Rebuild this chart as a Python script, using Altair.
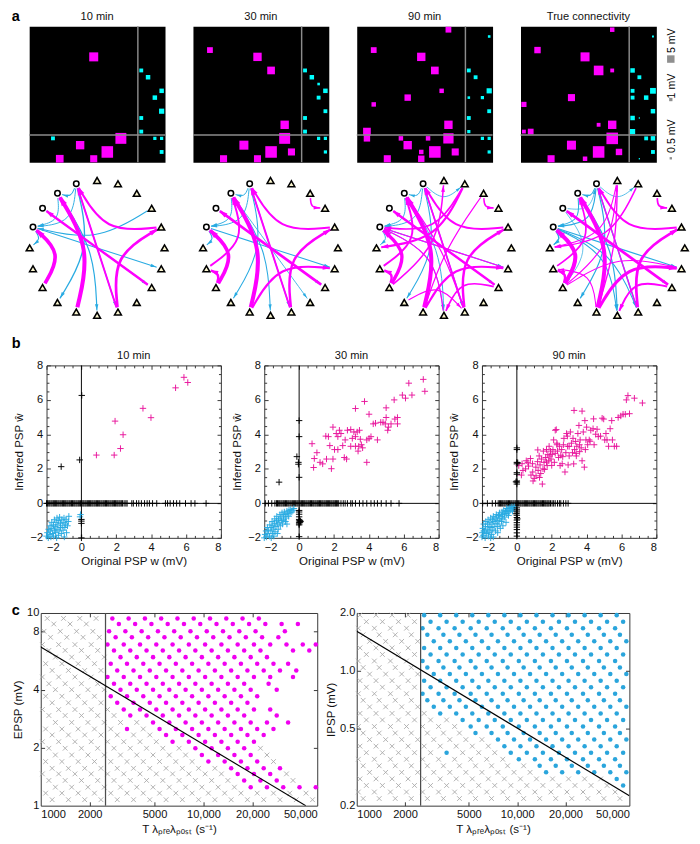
import altair as alt
import numpy as np
import pandas as pd

FONT = "Liberation Sans"


def nums(s):
    return [float(v) for v in s.split()]


# ============ panel a: inferred connectivity (pre = column, post = row, PSP in mV; negative = inhibitory)
N_EXC = 16
N_INH = 4
a_titles = ["10 min", "30 min", "90 min", "True connectivity"]
a_10min = [(9, 4, 7.3), (16, 6, -1.33), (17, 7, -1.8), (19, 9, -1.8), (18, 10, -1.8), (19, 12, -2.4),
           (16, 13, -1.33), (16, 15, -1.33), (3, 16, -1.33), (13, 16, 10.7), (18, 16, -0.93), (19, 16, -0.93),
           (7, 17, 6.3), (11, 18, 12.0), (19, 18, -1.33), (4, 19, 5.3), (9, 19, 4.5)]
a_30min = [(2, 3, 3.0), (9, 4, 6.3), (11, 6, 5.3), (16, 6, -1.33), (17, 7, -1.8), (18, 8, -0.6), (19, 9, -1.8),
           (18, 10, -1.33), (19, 12, -1.33), (16, 13, -1.33), (13, 14, 6.3), (16, 15, -1.33), (13, 16, 10.7),
           (18, 16, -0.93), (19, 16, -0.93), (7, 17, 7.3), (11, 18, 12.0), (14, 18, 4.5), (19, 18, -0.93),
           (4, 19, 4.5), (9, 19, 4.5)]
a_90min = [(13, 0, 3.0), (19, 1, -0.6), (2, 3, 3.0), (9, 4, 6.3), (11, 6, 5.3), (16, 6, -1.33), (17, 7, -1.33),
           (12, 9, 1.8), (19, 9, -2.4), (7, 10, 3.7), (16, 10, -0.6), (18, 10, -0.93), (2, 11, 1.8),
           (19, 12, -1.33), (16, 13, -1.33), (13, 14, 6.3), (1, 15, 5.3), (16, 15, -0.93), (1, 16, 3.7),
           (13, 16, 9.5), (6, 16, 1.8), (10, 16, 1.8), (18, 16, -0.93), (19, 16, -0.93), (7, 17, 6.3),
           (9, 18, 1.8), (11, 18, 12.0), (14, 18, 4.5), (19, 18, -0.93), (4, 19, 4.5), (9, 19, 3.7)]
a_true = [(13, 0, 1.8), (19, 1, -0.33), (2, 3, 3.7), (9, 4, 7.3), (11, 6, 8.3), (13, 6, 1.33), (16, 6, -1.8),
          (17, 7, -1.33), (16, 9, -1.33), (19, 9, -3.0), (7, 10, 4.5), (16, 10, -1.33), (18, 10, -1.8),
          (0, 11, 2.4), (19, 12, -1.8), (16, 13, -1.8), (17, 13, -0.15), (11, 14, 1.33), (13, 14, 6.3),
          (0, 15, 1.33), (1, 15, 3.0), (16, 15, -2.4), (13, 16, 12.0), (18, 16, -1.33), (19, 16, -1.8),
          (7, 17, 7.3), (11, 18, 12.0), (14, 18, 3.7), (19, 18, -1.33), (4, 19, 4.5), (9, 19, 1.8),
          (17, 19, -0.15)]
legend_mv = [5, 1, 0.5]
legend_labels = ["5 mV", "1 mV", "0.5 mV"]

# ============ panel b: original PSP w vs inferred PSP w-hat (mV)
b_titles = ["10 min", "30 min", "90 min"]
b10_exc = [(0.86, 2.80), (1.88, 2.80), (2.24, 3.18), (2.39, 3.98), (1.93, 4.77), (3.53, 5.51), (3.99, 4.97),
           (5.40, 6.70), (5.88, 7.31), (6.10, 7.01)]
b10_inh = [(-2.0, -1.9), (-1.95, -1.7), (-1.9, -2.0), (-1.88, -1.5), (-1.85, -1.8), (-1.8, -1.3), (-1.78, -1.6),
           (-1.75, -1.95), (-1.7, -1.1), (-1.7, -1.45), (-1.65, -1.75), (-1.6, -1.25), (-1.6, -1.9),
           (-1.55, -0.95), (-1.55, -1.55), (-1.5, -1.35), (-1.48, -1.7), (-1.45, -1.1), (-1.42, -2.0),
           (-1.4, -0.85), (-1.4, -1.5), (-1.35, -1.25), (-1.32, -1.85), (-1.3, -1.0), (-1.28, -1.6),
           (-1.25, -0.8), (-1.2, -1.4), (-1.2, -1.15), (-1.15, -1.75), (-1.12, -0.95), (-1.1, -1.3),
           (-1.05, -1.55), (-1.0, -1.1), (-1.0, -0.85), (-0.98, -1.95), (-0.95, -1.4), (-0.9, -1.2),
           (-0.88, -0.95), (-0.85, -1.7), (-0.8, -1.3), (-0.75, -1.05), (-0.72, -0.75), (-0.05, -0.65),
           (-0.08, -0.78)]
b10_other = [(-1.16, 2.13), (-0.10, 2.52), (0.02, 6.26), (0.0, -0.93), (0.0, -1.03), (0.0, -1.16), (0.0, -2.0)]
b10_missed = nums("""-2.00 -1.94 -1.87 -1.81 -1.74 -1.68 -1.61 -1.55 -1.48 -1.42 -1.35 -1.29 -1.22 -1.16 -1.09
 -1.03 -0.96 -0.90 -0.83 -0.77 -0.70 -0.64 -0.57 -0.51 -0.44 -0.38 -0.31 -0.25 -0.18 -0.12 -0.05 0.01 0.08 0.14
 0.21 0.27 0.34 0.40 0.47 0.53 0.60 0.66 0.73 0.79 0.86 0.92 0.99 1.05 1.12 1.18 1.25 1.31 1.38 1.44 1.51 1.57
 1.64 1.70 1.77 1.83 1.90 1.96 2.03 2.09 2.16 2.22 2.29 2.36 2.45 2.55 2.62 2.89 2.98 3.16 3.29 3.44 3.62 3.77
 3.90 4.08 4.32 4.82 4.94 5.09 5.28 5.46 5.64 5.97 6.29 6.51 7.15""")

b30_exc = [(0.74, 3.46), (0.87, 2.60), (0.83, 2.08), (1.20, 2.38), (1.35, 2.29), (1.57, 2.57), (1.53, 3.90),
           (1.68, 3.87), (1.85, 2.01), (1.94, 2.57), (1.76, 3.35), (1.94, 4.42), (2.03, 3.12), (2.22, 3.12),
           (2.31, 4.24), (2.22, 3.87), (2.40, 4.05), (2.50, 3.35), (2.64, 3.68), (2.59, 2.66), (2.72, 2.57),
           (2.77, 4.24), (2.96, 4.28), (3.05, 3.77), (3.14, 4.14), (3.23, 3.87), (3.33, 4.14), (3.38, 3.03),
           (3.42, 3.31), (3.46, 4.24), (3.51, 3.72), (3.57, 3.40), (3.64, 3.22), (3.88, 2.38), (3.88, 3.68),
           (4.01, 3.77), (4.12, 3.87), (4.25, 4.61), (4.38, 4.65), (4.49, 3.68), (4.68, 4.70), (4.81, 4.70),
           (4.94, 4.61), (4.99, 4.98), (5.08, 4.24), (5.12, 4.42), (5.27, 4.61), (5.49, 4.89), (5.64, 4.98),
           (5.64, 4.61), (3.23, 5.50), (3.75, 5.91), (4.01, 5.17), (4.99, 5.54), (5.45, 6.00), (6.10, 6.10),
           (6.29, 6.97), (7.12, 7.19), (7.21, 6.50), (5.92, 6.28), (6.47, 6.28), (1.02, 2.94), (2.13, 4.05),
           (2.96, 3.31), (3.23, 3.31)]
b30_inh = [(-2.0, -2.0), (-1.95, -1.8), (-1.9, -1.6), (-1.88, -1.95), (-1.82, -1.4), (-1.8, -1.75),
           (-1.75, -1.55), (-1.7, -1.9), (-1.68, -1.25), (-1.62, -1.6), (-1.6, -1.4), (-1.55, -1.05),
           (-1.52, -1.75), (-1.5, -1.3), (-1.45, -1.5), (-1.42, -1.15), (-1.4, -0.9), (-1.38, -1.65),
           (-1.33, -1.35), (-1.3, -1.0), (-1.28, -0.75), (-1.25, -1.2), (-1.2, -1.5), (-1.18, -0.9),
           (-1.15, -1.1), (-1.1, -0.65), (-1.08, -1.3), (-1.05, -0.85), (-1.0, -1.0), (-0.98, -0.55),
           (-0.95, -1.2), (-0.9, -0.75), (-0.88, -0.95), (-0.85, -0.5), (-0.8, -0.65), (-0.78, -1.05),
           (-0.75, -0.85), (-0.7, -0.45), (-0.65, -0.6), (-0.6, -0.75), (-0.58, -0.4), (-0.52, -0.55),
           (-0.48, -0.35), (-0.42, -0.5), (-0.35, -0.4), (-0.3, -0.3), (-1.45, -1.9), (-1.25, -1.75),
           (-1.6, -2.0), (-0.7, -1.2)]
b30_other = [(-1.15, 1.23), (-0.13, 2.71), (-0.04, 2.38), (-0.04, 2.27), (0.0, 4.80), (0.0, 3.87), (0.0, 1.51),
             (0.0, -0.41), (0.0, -0.50), (0.0, -0.63), (0.0, -0.78), (0.0, -0.93), (0.0, -1.02), (0.0, -1.12),
             (0.0, -1.19), (0.0, -1.25), (0.0, -1.93), (0.05, -1.0), (0.08, -1.05), (0.05, -1.1)]
b30_missed = nums("""-1.94 -1.76 -1.57 -1.39 -1.30 -1.24 -1.17 -1.11 -1.04 -0.98 -0.91 -0.85 -0.78 -0.72 -0.65
 -0.59 -0.52 -0.46 -0.39 -0.33 -0.26 -0.20 -0.13 -0.07 0.00 0.06 0.13 0.19 0.26 0.32 0.39 0.45 0.52 0.58 0.65
 0.71 0.78 0.84 0.91 0.97 1.04 1.10 1.17 1.23 1.30 1.36 1.43 1.49 1.56 1.62 1.69 1.75 1.82 1.88 1.95 2.01 2.08
 2.14 2.21 2.27 2.40 2.53 2.64 2.77 2.96 3.05 3.23 3.46 3.66 3.88 4.12 4.31 4.49 4.71 4.99 5.27 5.73""")

b90_exc = [(0.11, 2.19), (0.26, 1.64), (0.35, 1.91), (0.54, 2.47), (0.63, 2.38), (0.67, 2.16), (0.78, 2.60),
           (0.81, 1.64), (0.91, 1.82), (0.93, 1.30), (1.00, 1.45), (1.09, 2.10), (1.19, 2.42), (1.22, 1.91),
           (1.28, 2.75), (1.33, 2.23), (1.37, 1.73), (1.46, 1.12), (1.41, 2.57), (1.52, 3.03), (1.56, 2.38),
           (1.59, 1.97), (1.65, 2.66), (1.70, 3.12), (1.74, 2.19), (1.78, 2.84), (1.83, 2.47), (1.85, 3.31),
           (1.89, 2.75), (1.93, 3.03), (1.96, 2.57), (2.02, 2.84), (2.07, 3.12), (2.11, 3.68), (2.20, 4.24),
           (2.26, 4.28), (2.15, 2.38), (2.30, 3.49), (2.33, 3.03), (2.39, 2.66), (2.44, 3.31), (2.48, 2.19),
           (2.52, 2.79), (2.57, 3.12), (2.63, 2.71), (2.67, 3.40), (2.70, 3.77), (2.76, 1.82), (2.81, 2.94),
           (2.85, 4.05), (2.91, 3.31), (2.94, 2.23), (3.00, 2.75), (3.07, 4.14), (3.13, 3.49), (3.19, 2.94),
           (3.22, 3.77), (3.26, 2.29), (3.31, 3.12), (3.37, 3.59), (3.41, 2.75), (3.44, 3.31), (3.50, 4.05),
           (3.56, 4.52), (3.59, 3.40), (3.63, 3.68), (3.69, 3.22), (3.74, 2.47), (3.81, 4.14), (3.87, 2.10),
           (3.93, 3.12), (3.96, 3.68), (4.00, 4.42), (4.06, 3.40), (4.15, 3.68), (4.24, 4.24), (4.37, 4.33),
           (4.43, 3.40), (4.52, 4.01), (4.67, 3.87), (4.80, 3.90), (4.89, 4.94), (4.98, 4.89), (5.04, 3.68),
           (5.11, 4.05), (5.17, 3.68), (5.26, 3.31), (5.35, 4.33), (5.44, 4.80), (5.48, 3.68), (5.59, 3.31),
           (5.72, 3.31), (5.81, 4.98), (5.96, 5.07), (6.09, 5.17), (6.22, 5.17), (6.46, 5.20), (3.28, 5.39),
           (3.74, 5.35), (6.28, 6.00), (6.74, 6.10), (7.20, 5.82), (6.37, 6.25), (1.10, 1.60), (1.30, 1.50),
           (0.90, 2.30), (1.50, 2.00), (1.70, 2.40), (2.00, 2.20), (2.20, 2.90), (1.20, 3.10), (0.50, 2.00),
           (0.30, 2.30), (2.60, 2.30), (3.00, 3.30), (3.40, 2.90), (2.30, 3.40), (2.90, 3.90), (3.60, 3.00),
           (4.20, 3.60), (4.60, 4.30), (3.90, 4.80), (4.40, 4.90)]
b90_inh = [(-2.0, -1.95), (-1.98, -1.7), (-1.95, -1.45), (-1.92, -1.85), (-1.9, -1.2), (-1.85, -1.6),
           (-1.82, -2.0), (-1.8, -1.35), (-1.78, -1.05), (-1.75, -1.75), (-1.7, -1.5), (-1.68, -1.2),
           (-1.65, -0.95), (-1.62, -1.9), (-1.6, -1.35), (-1.55, -1.6), (-1.55, -1.1), (-1.5, -0.85),
           (-1.48, -1.4), (-1.45, -1.8), (-1.42, -1.2), (-1.4, -0.95), (-1.38, -1.55), (-1.35, -0.75),
           (-1.32, -1.05), (-1.3, -1.35), (-1.25, -0.9), (-1.22, -1.6), (-1.2, -1.15), (-1.18, -0.65),
           (-1.15, -0.8), (-1.12, -1.35), (-1.1, -1.0), (-1.05, -0.7), (-1.02, -1.2), (-1.0, -0.55),
           (-0.98, -0.9), (-0.95, -1.45), (-0.9, -0.75), (-0.88, -1.05), (-0.85, -0.5), (-0.82, -0.65),
           (-0.8, -0.9), (-0.75, -0.4), (-0.72, -0.6), (-0.7, -0.8), (-0.65, -0.45), (-0.62, -1.1),
           (-0.6, -0.3), (-0.58, -0.6), (-0.55, -0.45), (-0.5, -0.3), (-0.48, -0.7), (-0.45, -0.5),
           (-0.4, -0.25), (-0.38, -0.4), (-0.32, -0.3), (-0.28, -0.2), (-0.25, -0.45), (-0.2, -0.3),
           (-0.15, -0.2), (-1.65, -1.7), (-1.35, -1.95), (-1.1, -1.7), (-1.9, -1.6), (-1.5, -2.0), (-0.8, -1.3)]
b90_other = [(0.0, 3.22), (0.0, 3.12), (0.0, 2.38), (0.0, 2.29), (0.0, 1.78), (0.0, 1.69), (0.0, 1.30),
             (0.0, 1.23), (0.0, 1.12), (0.0, -0.26), (0.0, -0.37), (0.0, -0.45), (0.0, -0.56), (0.0, -0.69),
             (0.0, -0.82), (0.0, -0.97), (0.0, -1.12), (0.0, -1.25), (0.0, -1.38), (0.0, -1.52), (0.0, -1.71),
             (0.0, -1.90), (-0.05, 1.25), (0.05, 2.35), (0.03, -0.9), (-0.03, -0.6)]
b90_missed = nums("""-1.96 -1.69 -1.41 -1.22 -1.07 -1.00 -0.94 -0.87 -0.81 -0.74 -0.68 -0.61 -0.55 -0.48 -0.42
 -0.35 -0.29 -0.22 -0.16 -0.09 -0.03 0.04 0.10 0.17 0.23 0.30 0.36 0.43 0.49 0.56 0.62 0.69 0.75 0.82 0.88 0.95
 1.01 1.08 1.14 1.21 1.27 1.34 1.40 1.47 1.53 1.60 1.66 1.73 1.79 1.85 1.93 2.02 2.11 2.20 2.33 2.44 2.52 2.67
 2.81 2.94""")

# ============ panel c: log10(T*lambda_pre*lambda_post), per row of log10(PSP); crosses = not detected, dots = detected
c_epsp_rows = [
    (0.972, "3.04 3.14 3.24 3.34", "3.44 3.54 3.64 3.74 3.84 3.94 4.04 4.14 4.24 4.34"),
    (0.943, "3.08 3.18 3.28", "3.48 3.58 3.68 3.78 3.88 3.98 4.08 4.18 4.28 4.38 4.48 4.58"),
    (0.905, "3.02 3.12 3.22 3.32", "3.42 3.52 3.62 3.72 3.82 3.92 4.02 4.12 4.22 4.32 4.50"),
    (0.874, "3.06 3.16 3.26 3.36", "3.46 3.56 3.66 3.76 3.86 3.96 4.06 4.16 4.26 4.36 4.46"),
    (0.836, "3.01 3.11 3.21 3.31", "3.41 3.51 3.61 3.71 3.81 3.91 4.01 4.11 4.21 4.31 4.41 4.51 4.61 4.69"),
    (0.806, "3.05 3.15 3.25 3.35", "3.45 3.55 3.65 3.75 3.85 3.95 4.05 4.15 4.25 4.35 4.55 4.65"),
    (0.771, "3.09 3.19 3.29 3.39", "3.49 3.59 3.69 3.79 3.89 3.99 4.09 4.19 4.29 4.39"),
    (0.737, "3.03 3.13 3.23 3.33", "3.43 3.53 3.63 3.73 3.83 3.93 4.03 4.13 4.23 4.33 4.43 4.52"),
    (0.702, "3.07 3.17 3.27 3.37", "3.47 3.57 3.67 3.77 3.87 3.97 4.07 4.17 4.27 4.37 4.47 4.57"),
    (0.668, "3.01 3.11 3.21 3.31", "3.41 3.51 3.61 3.71 3.81 3.91 4.01 4.11 4.21 4.31 4.41 4.55"),
    (0.633, "3.05 3.15 3.25 3.35", "3.45 3.55 3.65 3.75 3.85 3.95 4.05 4.15 4.25 4.40"),
    (0.602, "3.09 3.19 3.29 3.39", "3.49 3.59 3.69 3.79 3.89 3.99 4.09 4.19 4.29 4.45"),
    (0.568, "3.03 3.13 3.23 3.33", "3.43 3.53 3.63 3.73 3.83 3.93 4.03 4.13 4.23 4.33"),
    (0.534, "3.07 3.17 3.27 3.37", "3.47 3.57 3.67 3.77 3.87 3.97 4.07 4.17 4.27"),
    (0.499, "3.01 3.11 3.21 3.31 3.41", "3.51 3.61 3.71 3.81 3.91 4.01 4.11 4.21 4.31 4.41"),
    (0.468, "3.05 3.15 3.25 3.35 3.45", "3.55 3.65 3.75 3.85 3.95 4.05 4.15 4.25 4.45"),
    (0.432, "3.09 3.19 3.29 3.39 3.49 3.59", "3.69 3.79 3.89 3.99 4.09 4.19 4.29 4.39 4.52"),
    (0.398, "3.03 3.13 3.23 3.33 3.43 3.63", "3.53 3.73 3.83 3.93 4.03 4.13 4.23 4.33 4.43"),
    (0.367, "3.07 3.17 3.27 3.37 3.47 3.57 3.67", "3.77 3.87 3.97 4.07 4.17 4.27 4.37"),
    (0.332, "3.01 3.11 3.21 3.31 3.41 3.51 3.61 3.71", "3.81 3.91 4.01 4.11 4.21 4.31"),
    (0.298, "3.05 3.15 3.25 3.35 3.45 3.55 3.65 3.75 3.85 4.35", "3.95 4.05 4.15 4.25"),
    (0.263, "3.09 3.19 3.29 3.39 3.49 3.59 3.69 3.79 3.89 4.39", "3.99 4.09 4.19 4.29"),
    (0.229, "3.03 3.13 3.23 3.33 3.43 3.53 3.63 3.73 3.83 3.93 4.43", "4.03 4.13 4.23 4.33"),
    (0.194, "3.07 3.17 3.27 3.37 3.47 3.57 3.67 3.77 3.87 3.97 4.07", "4.17 4.27 4.37 4.47"),
    (0.165, "3.01 3.11 3.21 3.31 3.41 3.51 3.61 3.71 3.81 3.91 4.01 4.11 4.51", "4.21 4.31 4.41"),
    (0.131, "3.05 3.15 3.25 3.35 3.45 3.55 3.65 3.75 3.85 3.95 4.05 4.15 4.55", "4.25 4.35 4.45"),
    (0.096, "3.09 3.19 3.29 3.39 3.49 3.59 3.69 3.79 3.89 3.99 4.09 4.19", "4.29 4.39 4.49 4.59 4.69"),
    (0.065, "3.03 3.13 3.23 3.33 3.43 3.53 3.63 3.73 3.83 3.93 4.03 4.13 4.23 4.33 4.43 4.53 4.63", ""),
    (0.031, "3.07 3.17 3.27 3.37 3.47 3.57 3.67 3.77 3.87 3.97 4.07 4.17 4.27 4.37 4.47 4.57 4.67", ""),
]
c_ipsp_rows = [
    (0.290, "3.02 3.12 3.22 3.32", "3.42 3.52 3.62 3.72 3.82 3.92 4.02 4.12 4.22 4.32 4.42 4.52 4.62"),
    (0.256, "3.06 3.16 3.26 3.36", "3.46 3.56 3.66 3.76 3.86 3.96 4.06 4.16 4.26 4.36 4.46 4.56 4.66"),
    (0.222, "3.01 3.11 3.21 3.31", "3.41 3.51 3.61 3.71 3.81 3.91 4.01 4.11 4.21 4.31 4.41 4.51 4.61"),
    (0.188, "3.04 3.14 3.24 3.34", "3.44 3.54 3.64 3.74 3.84 3.94 4.04 4.14 4.24 4.34 4.44 4.54 4.64"),
    (0.154, "3.08 3.18 3.28 3.38", "3.48 3.58 3.68 3.78 3.88 3.98 4.08 4.18 4.28 4.38 4.48 4.58 4.68"),
    (0.120, "3.02 3.12 3.22 3.32", "3.42 3.52 3.62 3.72 3.82 3.92 4.02 4.12 4.22 4.32 4.42 4.52 4.62"),
    (0.086, "3.06 3.16 3.26 3.36", "3.46 3.56 3.66 3.76 3.86 3.96 4.06 4.16 4.26 4.36 4.46 4.56 4.66"),
    (0.052, "3.01 3.11 3.21 3.31", "3.41 3.51 3.61 3.71 3.81 3.91 4.01 4.11 4.21 4.31 4.41 4.51 4.61"),
    (0.018, "3.04 3.14 3.24 3.34", "3.44 3.54 3.64 3.74 3.84 3.94 4.04 4.14 4.24 4.34 4.44 4.54 4.64"),
    (-0.016, "3.08 3.18 3.28 3.38", "3.48 3.58 3.68 3.78 3.88 3.98 4.08 4.18 4.28 4.38 4.48 4.58 4.68"),
    (-0.050, "3.02 3.12 3.22 3.32", "3.42 3.52 3.62 3.72 3.82 3.92 4.02 4.12 4.22 4.32 4.42 4.52 4.62"),
    (-0.084, "3.06 3.16 3.26 3.36", "3.46 3.56 3.66 3.76 3.86 3.96 4.06 4.16 4.26 4.36 4.46 4.56 4.66"),
    (-0.118, "3.01 3.11 3.21 3.31", "3.41 3.51 3.61 3.71 3.81 3.91 4.01 4.11 4.21 4.31 4.41 4.51 4.61"),
    (-0.152, "3.04 3.14 3.24 3.34", "3.44 3.54 3.64 3.74 3.84 3.94 4.04 4.14 4.24 4.34 4.44 4.54 4.64"),
    (-0.186, "3.08 3.18 3.28 3.38", "3.48 3.58 3.68 3.78 3.88 3.98 4.08 4.18 4.28 4.38 4.48 4.58 4.68"),
    (-0.220, "3.02 3.12 3.22 3.32 3.42", "3.52 3.62 3.72 3.82 3.92 4.02 4.12 4.22 4.32 4.42 4.52 4.62"),
    (-0.254, "3.06 3.16 3.26 3.36 3.46 3.56", "3.66 3.76 3.86 3.96 4.06 4.16 4.26 4.36 4.46 4.56 4.66"),
    (-0.288, "3.01 3.11 3.21 3.31 3.41 3.51 3.61", "3.71 3.81 3.91 4.01 4.11 4.21 4.31 4.41 4.51 4.61"),
    (-0.322, "3.04 3.14 3.24 3.34 3.44 3.54 3.64", "3.74 3.84 3.94 4.04 4.14 4.24 4.34 4.44 4.54 4.64"),
    (-0.356, "3.08 3.18 3.28 3.38 3.48 3.58 3.68 3.78", "3.88 3.98 4.08 4.18 4.28 4.38 4.48 4.58 4.68"),
    (-0.390, "3.02 3.12 3.22 3.32 3.42 3.52 3.62 3.72 3.82", "3.92 4.02 4.12 4.22 4.32 4.42 4.52 4.62"),
    (-0.424, "3.06 3.16 3.26 3.36 3.46 3.66 3.76 3.86", "3.56 3.96 4.06 4.16 4.26 4.36 4.46 4.56 4.66"),
    (-0.458, "3.01 3.11 3.21 3.31 3.41 3.51 3.61 3.71 3.81 3.91", "4.01 4.11 4.21 4.31 4.41 4.51 4.61"),
    (-0.492, "3.04 3.14 3.24 3.34 3.44 3.54 3.64 3.74 3.84 3.94 4.04", "4.14 4.24 4.34 4.44 4.54 4.64"),
    (-0.526, "3.08 3.18 3.28 3.38 3.48 3.58 3.68 3.78 3.88 3.98 4.08", "4.18 4.28 4.38 4.48 4.58 4.68"),
    (-0.560, "3.02 3.12 3.22 3.32 3.42 3.52 3.62 3.72 3.82 3.92 4.02 4.12 4.22 4.32 4.42 4.52", "4.62"),
    (-0.594, "3.06 3.16 3.26 3.36 3.46 3.56 3.66 3.76 3.86 3.96 4.06 4.16 4.26 4.36 4.46 4.56", "4.66"),
    (-0.628, "3.01 3.11 3.21 3.31 3.41 3.51 3.61 3.71 3.81 3.91 4.01 4.11 4.21 4.31 4.41 4.51 4.61", ""),
    (-0.662, "3.04 3.14 3.24 3.34 3.44 3.54 3.64 3.74 3.84 3.94 4.04 4.14 4.24 4.34 4.44 4.54 4.64", ""),
]
c_threshold = 2500
c_epsp_line_x = [1000, 42500]
c_epsp_line_y = [6.67, 1.0]
c_ipsp_line_x = [1000, 50000]
c_ipsp_line_y = [1.61, 0.225]

# ============ styling
MAT_E, MAT_I = "#ff00ff", "#00ffff"
NET_E, NET_I = "#ff00ff", "#29abe2"
SC_E, SC_I = "#e8169c", "#29abe2"
C_E, C_I = "#f000f0", "#2aa5dc"
GREY_X = "#a8a8a8"
PLUS = "M-1,0L1,0M0,-1L0,1"
CROSS = "M-1,-1L1,1M-1,1L1,-1"
ARROW = "M0,-1L0.6,1L-0.6,1Z"
SIZE_SCALE = alt.Scale(domain=[0, 5], range=[0, 60])


def letter_layer(letter, dx, dy, opacity=1.0, baseline="alphabetic"):
    return alt.Chart(pd.DataFrame({"t": [letter]})).mark_text(
        fontSize=15, fontWeight="bold", align="left", baseline=baseline, font=FONT, opacity=opacity
    ).encode(text="t:N", x=alt.value(dx), y=alt.value(dy))


def title_layer(title, cx, dy=-10):
    return alt.Chart(pd.DataFrame({"t": [title]})).mark_text(
        fontSize=11.5, align="center", baseline="middle", font=FONT, color="#111"
    ).encode(text="t:N", x=alt.value(cx), y=alt.value(dy))


def matrix_panel(entries, title, letter=None):
    n = N_EXC + N_INH
    df = pd.DataFrame(entries, columns=["pre", "post", "w"])
    df["aw"] = df["w"].abs()
    xs = alt.Scale(domain=[-0.5, n - 0.5], nice=False, zero=False)
    ys = alt.Scale(domain=[-0.5, n - 0.5], nice=False, zero=False, reverse=True)
    layers = []
    for sub, col in ((df[df.w < 0], MAT_I), (df[df.w > 0], MAT_E)):
        layers.append(alt.Chart(sub).mark_point(shape="square", filled=True, opacity=1, strokeWidth=0, color=col).encode(
            x=alt.X("pre:Q", scale=xs, axis=None),
            y=alt.Y("post:Q", scale=ys, axis=None),
            size=alt.Size("aw:Q", scale=SIZE_SCALE, legend=None)))
    sep = pd.DataFrame({"b": [N_EXC - 0.5]})
    layers.append(alt.Chart(sep).mark_rule(color="#8c8c8c", strokeWidth=1.5).encode(
        x=alt.X("b:Q", scale=xs, axis=None)))
    layers.append(alt.Chart(sep).mark_rule(color="#8c8c8c", strokeWidth=1.5).encode(
        y=alt.Y("b:Q", scale=ys, axis=None)))
    layers.append(title_layer(title, 70.5))
    if letter:
        layers.append(letter_layer(letter, -18, -6))
    return alt.layer(*layers).properties(
        width=141, height=141, view=alt.ViewBackground(fill="black", stroke="transparent"))


def legend_panel():
    layers = []
    sq_y = [34, 76, 137]
    tx_y = [15, 62, 114]
    for v, lab, yq, yt in zip(legend_mv, legend_labels, sq_y, tx_y):
        d = pd.DataFrame({"v": [v], "lab": [lab]})
        layers.append(alt.Chart(d).mark_point(shape="square", filled=True, opacity=1, strokeWidth=0,
                                              color="#8f8f8f").encode(
            x=alt.value(7), y=alt.value(yq), size=alt.Size("v:Q", scale=SIZE_SCALE, legend=None)))
        layers.append(alt.Chart(d).mark_text(angle=270, fontSize=11, align="center", baseline="middle",
                                             font=FONT).encode(x=alt.value(8), y=alt.value(yt), text="lab:N"))
    return alt.layer(*layers).properties(width=14, height=141, view=alt.ViewBackground(stroke="transparent"))


R_PX = 70.0
NET_W, NET_H = 141, 150


def toward(a, b, d):
    v = b - a
    n = float(np.hypot(v[0], v[1]))
    return a + v / n * d if n > 1e-9 else a


def network_panel(entries, first=False):
    n = N_EXC + N_INH
    idx = np.arange(n)
    ang = np.deg2rad(90.0 - 360.0 / n * idx)
    nodes = pd.DataFrame({"idx": idx, "x": np.cos(ang), "y": np.sin(ang),
                          "kind": np.where(idx < N_EXC, "E", "I")})
    pts = nodes[["x", "y"]].to_numpy()
    lines, heads = [], []
    for eid, (pre, post, w) in enumerate(entries):
        p0, p2 = pts[pre], pts[post]
        L = float(np.hypot(*(p2 - p0)))
        mid = (p0 + p2) / 2
        p1 = mid * max(0.0, 1 - 0.45 * L)
        s = toward(p0, p1, 5 / R_PX)
        e = toward(p2, p1, 5 / R_PX)
        kind = "exc" if w > 0 else "inh"
        for k, p in enumerate((s, p1, e)):
            lines.append({"eid": eid, "ord": k, "x": p[0], "y": p[1], "aw": abs(w), "kind": kind})
        d = e - p1
        a_deg = (np.degrees(np.arctan2(d[0], d[1])) + 360) % 360
        c = toward(e, p1, 3.5 / R_PX)
        heads.append({"eid": eid, "x": c[0], "y": c[1], "ang": a_deg, "aw": abs(w), "kind": kind})
    ldf = pd.DataFrame(lines)
    hdf = pd.DataFrame(heads)
    xs = alt.Scale(domain=[-NET_W / 2 / R_PX, NET_W / 2 / R_PX], nice=False, zero=False)
    ys = alt.Scale(domain=[-NET_H / 2 / R_PX, NET_H / 2 / R_PX], nice=False, zero=False)
    sw = alt.Scale(domain=[0, 12], range=[0.7, 4.2])
    hs = alt.Scale(domain=[0, 12], range=[22, 110])
    layers = []
    for kind, col in (("inh", NET_I), ("exc", NET_E)):
        layers.append(alt.Chart(ldf[ldf.kind == kind]).mark_line(color=col, interpolate="basis").encode(
            x=alt.X("x:Q", scale=xs, axis=None), y=alt.Y("y:Q", scale=ys, axis=None),
            detail="eid:N", order="ord:Q",
            strokeWidth=alt.StrokeWidth("aw:Q", scale=sw, legend=None)))
        layers.append(alt.Chart(hdf[hdf.kind == kind]).mark_point(shape=ARROW, filled=True, opacity=1,
                                                                   strokeWidth=0, color=col).encode(
            x=alt.X("x:Q", scale=xs, axis=None), y=alt.Y("y:Q", scale=ys, axis=None),
            angle=alt.Angle("ang:Q", scale=None),
            size=alt.Size("aw:Q", scale=hs, legend=None)))
    layers.append(alt.Chart(nodes[nodes.kind == "E"]).mark_point(
        shape="triangle-up", filled=True, fill="#fbf6cf", stroke="black", strokeWidth=1.6, size=50, opacity=1
    ).encode(x=alt.X("x:Q", scale=xs, axis=None), y=alt.Y("y:Q", scale=ys, axis=None)))
    layers.append(alt.Chart(nodes[nodes.kind == "I"]).mark_point(
        shape="circle", filled=True, fill="white", stroke="black", strokeWidth=1.6, size=32, opacity=1
    ).encode(x=alt.X("x:Q", scale=xs, axis=None), y=alt.Y("y:Q", scale=ys, axis=None)))
    if first:
        # invisible anchor so the row lines up with the matrices above
        layers.append(letter_layer("a", -18, -2, 0.0, baseline="top"))
    return alt.layer(*layers).properties(width=NET_W, height=NET_H, view=alt.ViewBackground(stroke="transparent"))


def tick_axis(orient, values, size):
    return alt.Axis(orient=orient, values=values, labels=False, domain=False, grid=False, ticks=True,
                    tickSize=size, offset=-size, tickColor="#333", tickWidth=1, title=None)


def axis_layers(xs, ys, xdom, ydom, x_specs, y_specs):
    dummy = pd.DataFrame({"ax": xdom, "ay": ydom})
    out = []
    for xa, ya in zip(x_specs, y_specs):
        out.append(alt.Chart(dummy).mark_point(opacity=0, size=0).encode(
            x=alt.X("ax:Q", scale=xs, axis=xa), y=alt.Y("ay:Q", scale=ys, axis=ya)))
    return out


def scatter_panel(title, exc, inh, other, missed, letter=None):
    xs = alt.Scale(domain=[-2, 8], nice=False, zero=False)
    ys = alt.Scale(domain=[-2, 8], nice=False, zero=False)

    def plus(pairs, color):
        df = pd.DataFrame(pairs, columns=["w", "wh"])
        return alt.Chart(df).mark_point(shape=PLUS, filled=False, size=44, strokeWidth=1, opacity=1,
                                        color=color).encode(
            x=alt.X("w:Q", scale=xs, axis=None), y=alt.Y("wh:Q", scale=ys, axis=None))

    zero = pd.DataFrame({"z": [0]})
    layers = [
        alt.Chart(zero).mark_rule(color="black", strokeWidth=1).encode(y=alt.Y("z:Q", scale=ys, axis=None)),
        alt.Chart(zero).mark_rule(color="black", strokeWidth=1).encode(x=alt.X("z:Q", scale=xs, axis=None)),
        plus([(m, 0.0) for m in missed], "black"),
        plus(inh, SC_I),
        plus(exc, SC_E),
        plus(other, "black"),
    ]
    major = [-2, 0, 2, 4, 6, 8]
    minor = [v / 2 for v in range(-4, 17) if v % 4 != 0]
    x_specs = [
        alt.Axis(orient="bottom", values=major, ticks=False, domain=False, grid=False, labelPadding=4,
                 title="Original PSP w (mV)", titlePadding=3),
        tick_axis("bottom", major, 4), tick_axis("bottom", minor, 2.5),
        tick_axis("top", major, 4), tick_axis("top", minor, 2.5),
    ]
    y_specs = [
        alt.Axis(orient="left", values=major, ticks=False, domain=False, grid=False, labelPadding=4,
                 title="Inferred PSP \u0175", titlePadding=5),
        tick_axis("left", major, 4), tick_axis("left", minor, 2.5),
        tick_axis("right", major, 4), tick_axis("right", minor, 2.5),
    ]
    layers += axis_layers(xs, ys, [-2, 8], [-2, 8], x_specs, y_specs)
    layers.append(title_layer(title, 90.5))
    if letter:
        layers.append(letter_layer(letter, -36, -18))
    # invisible anchor setting the gap above panel b
    layers.append(letter_layer("b", 2, -23, 0.0))
    return alt.layer(*layers).resolve_axis(x="independent", y="independent").properties(width=181, height=179)


def c_panel(rows, ydom, ytitle, ylabels, ylab_fmt, yticks, dot_color, line_x, line_y, width, letter=None):
    crosses, dots = [], []
    for ly, xs_str, ds_str in rows:
        for v in nums(xs_str):
            crosses.append((10 ** v, 10 ** ly))
        for v in nums(ds_str):
            dots.append((10 ** v, 10 ** ly))
    cdf = pd.DataFrame(crosses, columns=["rate", "psp"])
    ddf = pd.DataFrame(dots, columns=["rate", "psp"])
    xs = alt.Scale(type="log", domain=[1000, 50000], nice=False)
    ys = alt.Scale(type="log", domain=ydom, nice=False)
    layers = [
        alt.Chart(cdf).mark_point(shape=CROSS, filled=False, size=24, strokeWidth=0.9, opacity=1,
                                  color=GREY_X).encode(
            x=alt.X("rate:Q", scale=xs, axis=None), y=alt.Y("psp:Q", scale=ys, axis=None)),
        alt.Chart(ddf).mark_circle(size=22, opacity=1, color=dot_color).encode(
            x=alt.X("rate:Q", scale=xs, axis=None), y=alt.Y("psp:Q", scale=ys, axis=None)),
        alt.Chart(pd.DataFrame({"t": [c_threshold]})).mark_rule(color="#4d4d4d", strokeWidth=1.3).encode(
            x=alt.X("t:Q", scale=xs, axis=None)),
        alt.Chart(pd.DataFrame({"rate": line_x, "psp": line_y})).mark_line(color="black", strokeWidth=1.2,
                                                                           clip=True).encode(
            x=alt.X("rate:Q", scale=xs, axis=None), y=alt.Y("psp:Q", scale=ys, axis=None)),
    ]
    xticks = [2000, 5000, 10000, 20000]
    x_specs = [
        alt.Axis(orient="bottom", values=[1000, 2000, 5000, 10000, 20000, 50000], ticks=False, domain=False,
                 grid=False, labelPadding=3,
                 labelExpr="datum.value >= 10000 ? format(datum.value, ',') : format(datum.value, 'd')",
                 title="T \u03bb\u209a\u1d63\u2091\u03bb\u209a\u2092\u209b\u209c (s\u207b\u00b9)", titlePadding=4),
        tick_axis("bottom", xticks, 4),
        tick_axis("top", xticks, 4),
    ]
    y_specs = [
        alt.Axis(orient="left", values=ylabels, ticks=False, domain=False, grid=False, labelPadding=2,
                 labelExpr="format(datum.value, '%s')" % ylab_fmt, title=ytitle, titlePadding=2),
        tick_axis("left", yticks, 4),
        tick_axis("right", yticks, 4),
    ]
    layers += axis_layers(xs, ys, [1000, 50000], ydom, x_specs, y_specs)
    if letter:
        layers.append(letter_layer(letter, -30, 2))
    # invisible anchor keeping the gap above panel c
    layers.append(letter_layer("c", 2, -38, 0.0, baseline="top"))
    return alt.layer(*layers).resolve_axis(x="independent", y="independent").properties(width=width, height=200)


def spacer():
    return alt.Chart(pd.DataFrame({"v": [0]})).mark_point(size=0, opacity=0).encode(
        x=alt.value(0), y=alt.value(0)).properties(width=1, height=1, view=alt.ViewBackground(stroke="transparent"))


RES = dict(size="independent", strokeWidth="independent")


def hcat(*charts, spacing):
    return alt.hconcat(*charts, spacing=spacing).resolve_scale(**RES)


mats = [matrix_panel(e, t, "a" if i == 0 else None)
        for i, (e, t) in enumerate(zip([a_10min, a_30min, a_90min, a_true], a_titles))]
nets = [network_panel(e, i == 0) for i, e in enumerate([a_10min, a_30min, a_90min, a_true])]
scs = [
    scatter_panel(b_titles[0], b10_exc, b10_inh, b10_other, b10_missed, "b"),
    scatter_panel(b_titles[1], b30_exc, b30_inh, b30_other, b30_missed),
    scatter_panel(b_titles[2], b90_exc, b90_inh, b90_other, b90_missed),
]
c1 = c_panel(c_epsp_rows, [1, 10], "EPSP (mV)", [1, 2, 4, 8, 10], "d", [2, 4, 8], C_E,
             c_epsp_line_x, c_epsp_line_y, 287, "c")
c2 = c_panel(c_ipsp_rows, [0.2, 2.0], "IPSP (mV)", [0.2, 0.5, 1.0, 2.0], ".1f", [0.5, 1.0], C_I,
             c_ipsp_line_x, c_ipsp_line_y, 283)

row_a1 = hcat(spacer(), hcat(hcat(*mats, spacing=25), legend_panel(), spacing=5), spacing=0)
row_a2 = hcat(spacer(), hcat(*nets, spacing=25), spacing=0)
row_b = hcat(spacer(), hcat(*scs, spacing=8), spacing=0)
row_c = hcat(spacer(), hcat(c1, c2, spacing=5), spacing=0)

chart = alt.vconcat(row_a1, row_a2, row_b, row_c, spacing=9).resolve_scale(**RES).properties(
    padding={"top": -16, "left": 0, "right": 0, "bottom": 0})
chart = chart.configure(font=FONT).configure_view(stroke="#333", strokeWidth=1).configure_axis(
    labelFont=FONT, titleFont=FONT, labelFontSize=11.5, titleFontSize=12, titleFontWeight="normal",
    labelColor="#111", titleColor="#111")

chart.save("out.html", embed_options={"renderer": "svg", "actions": False})
